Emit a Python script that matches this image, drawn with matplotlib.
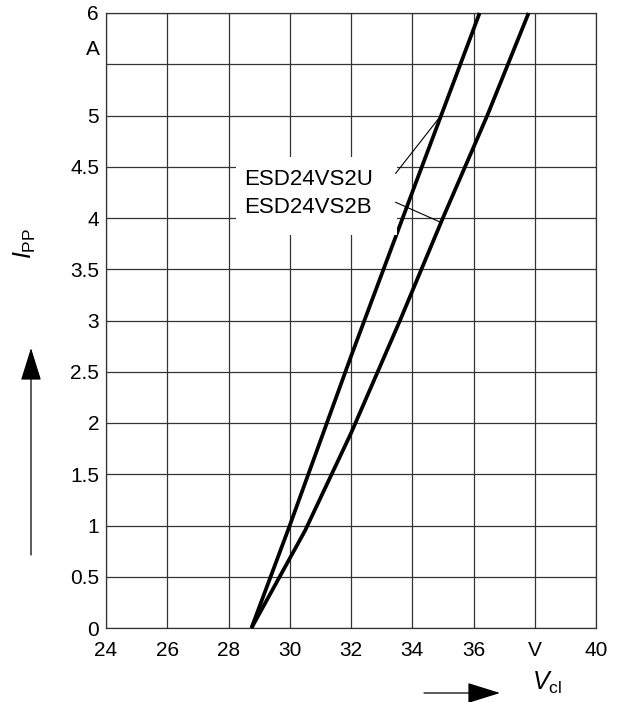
import matplotlib
matplotlib.use("Agg")
import matplotlib.pyplot as plt
from matplotlib.patches import Rectangle, FancyArrowPatch

plt.rcParams['font.family'] = ['Liberation Sans', 'DejaVu Sans']
plt.rcParams['mathtext.fontset'] = 'custom'
plt.rcParams['mathtext.rm'] = 'Liberation Sans'
plt.rcParams['mathtext.it'] = 'Liberation Sans:italic'

# Data
u_v = [28.75, 30.0, 32.0, 34.0, 36.2]
u_i = [0, 1.0, 2.65, 4.25, 6.0]
b_v = [28.75, 30.5, 32.0, 33.6, 35.0, 36.45, 37.8]
b_i = [0, 0.95, 1.9, 3.0, 4.0, 5.0, 6.0]

x_ticks = [24, 26, 28, 30, 32, 34, 36, 38, 40]
x_labels = ['24', '26', '28', '30', '32', '34', '36', 'V', '40']
y_ticks = [0, 0.5, 1, 1.5, 2, 2.5, 3, 3.5, 4, 4.5, 5, 5.5, 6]
y_labels = ['0', '0.5', '1', '1.5', '2', '2.5', '3', '3.5', '4', '4.5', '5', '', '6']
names = ['ESD24VS2U', 'ESD24VS2B']

fig = plt.figure(figsize=(6.19, 7.02), dpi=100)
ax = fig.add_axes([106/619, 1-628/702, 490/619, 615/702])
ax.set_xlim(24, 40)
ax.set_ylim(0, 6)
ax.set_xticks(x_ticks)
ax.set_xticklabels(x_labels)
ax.set_yticks(y_ticks)
ax.set_yticklabels(y_labels)
ax.tick_params(length=0, labelsize=15, pad=5)
ax.tick_params(axis='x', pad=9)
ax.grid(True, color='#333333', linewidth=0.9)
ax.set_axisbelow(True)
for s in ax.spines.values():
    s.set_linewidth(0.9)
    s.set_color('#333333')

ax.plot(u_v, u_i, color='black', linewidth=2.7, solid_capstyle='butt', zorder=3, clip_on=False)
ax.plot(b_v, b_i, color='black', linewidth=2.7, solid_capstyle='butt', zorder=3, clip_on=False)

# white label box
ax.add_patch(Rectangle((28.24, 3.834), 33.50-28.24, 4.595-3.834, facecolor='white',
                       edgecolor='none', zorder=4))
ax.text(28.51, 4.32, names[0], fontsize=16, ha='left', va='baseline', zorder=5)
ax.text(28.51, 4.05, names[1], fontsize=16, ha='left', va='baseline', zorder=5)
ax.plot([33.46, 34.85], [4.436, 4.966], color='black', linewidth=0.8, zorder=5)
ax.plot([33.46, 34.93], [4.153, 3.958], color='black', linewidth=0.8, zorder=5)

# unit A
ax.text(-0.012, 5.64, 'A', transform=ax.get_yaxis_transform(), ha='right', va='center', fontsize=15)

# axis labels with arrows
fig.text(25/619, 1-243/702, r'$I_{\rm PP}$', rotation=90, ha='center', va='center', fontsize=18)
fig.add_artist(FancyArrowPatch((31/619, 1-555/702), (31/619, 1-348/702),
               transform=fig.transFigure, arrowstyle='-|>,head_length=1.6,head_width=0.5',
               color='black', linewidth=0.9, mutation_scale=13, shrinkA=0, shrinkB=0))
fig.text(547/619, 1-683/702, r'$V_{\rm cl}$', ha='center', va='center', fontsize=18)
fig.add_artist(FancyArrowPatch((424/619, 1-693/702), (500/619, 1-693/702),
               transform=fig.transFigure, arrowstyle='-|>,head_length=1.6,head_width=0.5',
               color='black', linewidth=0.9, mutation_scale=13, shrinkA=0, shrinkB=0))

fig.savefig('out.png', dpi=100, facecolor='white')
